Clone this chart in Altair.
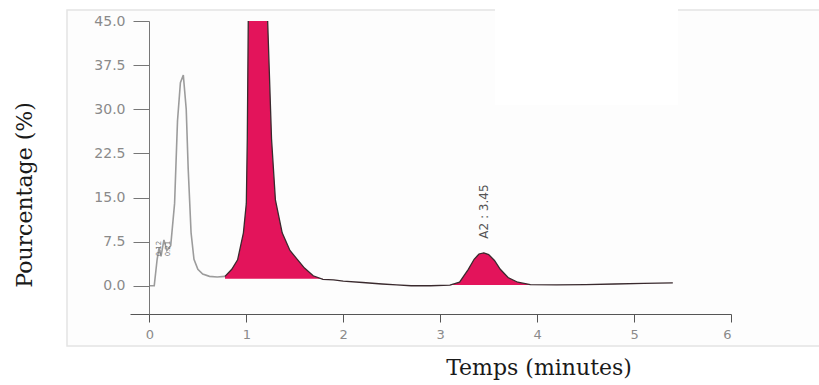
import altair as alt
import pandas as pd

# ---- data ----
time_min = [0.00, 0.05, 0.08, 0.10, 0.12, 0.15, 0.18, 0.22, 0.26, 0.29, 0.32, 0.35, 0.38, 0.40, 0.43, 0.46, 0.50, 0.55, 0.62, 0.70, 0.78,
            0.85, 0.91, 0.97, 1.00, 1.01, 1.02, 1.06, 1.12, 1.18, 1.22, 1.26, 1.30, 1.37, 1.45, 1.53, 1.60, 1.69, 1.79,
            1.90, 2.00, 2.20, 2.40, 2.55, 2.70, 2.90, 3.10, 3.20, 3.29, 3.35, 3.40, 3.45, 3.50, 3.56, 3.62, 3.70, 3.80, 3.93, 4.20, 4.50, 4.80, 5.10, 5.40]
signal_pct = [0.0, 0.0, 4.5, 6.5, 5.0, 7.8, 6.0, 6.8, 14.0, 28.0, 34.5, 35.8, 30.0, 20.0, 9.0, 4.5, 2.8, 2.0, 1.6, 1.5, 1.6,
              2.8, 4.4, 9.0, 14.0, 25.0, 45.0, 60.0, 66.0, 60.0, 45.0, 25.0, 14.6, 9.0, 6.0, 4.4, 3.0, 1.7, 1.1,
              1.0, 0.8, 0.55, 0.3, 0.15, 0.0, 0.0, 0.1, 0.6, 2.8, 4.5, 5.4, 5.6, 5.3, 4.3, 2.8, 1.4, 0.6, 0.2, 0.15, 0.2, 0.3, 0.4, 0.5]

# integrated (filled) peaks
peak_names = ["P1", "P2"]
peak_start = [0.78, 3.10]
peak_end = [1.79, 3.93]
peak_base = [1.2, 0.15]
solvent_end = 0.78  # light grey part of the trace before this time

# peak annotations
label_text = ["0.12", "0.21"]
label_time = [0.10, 0.19]
label_y = [5.0, 5.0]
main_label_text = ["A2 : 3.45"]
main_label_time = [3.45]
main_label_y = [8.0]

x_ticks = [0, 1, 2, 3, 4, 5, 6]
y_ticks = [0.0, 7.5, 15.0, 22.5, 30.0, 37.5, 45.0]

assert len(time_min) == len(signal_pct)

trace = pd.DataFrame({"t": time_min, "y": signal_pct})
early = trace[trace.t <= solvent_end]
late = trace[trace.t >= solvent_end]

fill_parts = []
for name, a, b, base in zip(peak_names, peak_start, peak_end, peak_base):
    part = trace[(trace.t >= a) & (trace.t <= b)].copy()
    part["peak"] = name
    part["base"] = base
    fill_parts.append(part)
fills = pd.concat(fill_parts)

small_labels = pd.DataFrame({"t": label_time, "y": label_y, "txt": label_text})
main_labels = pd.DataFrame({"t": main_label_time, "y": main_label_y, "txt": main_label_text})

xs = alt.Scale(domain=[-0.2, 6], nice=False, zero=False)
ys = alt.Scale(domain=[-4.8, 45], nice=False, zero=False)

x_axis = alt.Axis(values=x_ticks, format="d", title=None, grid=False, tickSize=8, zindex=2,
                  domainColor="#555555", tickColor="#555555", labelColor="#8a8a8a",
                  labelFont="DejaVu Sans", labelFontSize=13, labelPadding=6)
y_axis = alt.Axis(values=y_ticks, format=".1f", title=None, grid=False, tickSize=16, zindex=2,
                  offset=-19, domainColor="#777777", tickColor="#777777", labelColor="#8a8a8a",
                  labelFont="DejaVu Sans", labelFontSize=14, labelPadding=8)

frame = alt.Chart(pd.DataFrame({"a": [0]})).mark_rect(
    fill="#fdfdfd", stroke="#e4e4e4", strokeWidth=1.5
).encode(x=alt.value(-63), x2=alt.value(720), y=alt.value(-11), y2=alt.value(325))

blank = alt.Chart(pd.DataFrame({"a": [0]})).mark_rect(fill="white").encode(
    x=alt.value(365), x2=alt.value(548), y=alt.value(-22), y2=alt.value(84))

area = alt.Chart(fills).mark_area(color="#e3145b", clip=True, opacity=1).encode(
    x=alt.X("t:Q", scale=xs, axis=x_axis),
    y=alt.Y("y:Q", scale=ys, axis=y_axis),
    y2="base:Q",
    detail="peak:N",
)

line_early = alt.Chart(early).mark_line(color="#9c9c9c", strokeWidth=1.6, clip=True).encode(
    x=alt.X("t:Q", scale=xs), y=alt.Y("y:Q", scale=ys))
line_late = alt.Chart(late).mark_line(color="#3a2a2e", strokeWidth=1.3, clip=True).encode(
    x=alt.X("t:Q", scale=xs), y=alt.Y("y:Q", scale=ys))

small_txt = alt.Chart(small_labels).mark_text(
    angle=270, align="left", baseline="middle", fontSize=7, color="#777777", font="DejaVu Sans"
).encode(x=alt.X("t:Q", scale=xs), y=alt.Y("y:Q", scale=ys), text="txt:N")

main_txt = alt.Chart(main_labels).mark_text(
    angle=270, align="left", baseline="middle", fontSize=12, color="#555555", font="DejaVu Sans"
).encode(x=alt.X("t:Q", scale=xs), y=alt.Y("y:Q", scale=ys), text="txt:N")

x_title = alt.Chart(pd.DataFrame({"a": [0]})).mark_text(
    text="Temps (minutes)", font="DejaVu Serif", fontSize=22, color="#1a1a1a",
    align="center", baseline="middle"
).encode(x=alt.value(409), y=alt.value(347))

y_title = alt.Chart(pd.DataFrame({"a": [0]})).mark_text(
    text="Pourcentage (%)", font="DejaVu Serif", fontSize=22, color="#1a1a1a",
    align="center", baseline="middle", angle=270
).encode(x=alt.value(-105), y=alt.value(174))

chart = alt.layer(
    frame, blank, area, line_early, line_late, small_txt, main_txt, x_title, y_title
).properties(
    width=601, height=293,
    padding={"left": 130, "top": 21, "right": 88, "bottom": 71},
    autosize=alt.AutoSizeParams(type="none"),
    background="white",
).configure_view(stroke=None)

chart.save("out.html", embed_options={"renderer": "svg", "actions": False})
